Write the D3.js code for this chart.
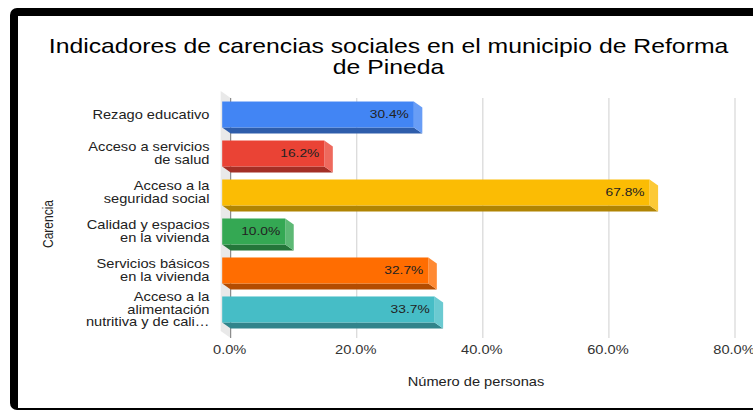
<!DOCTYPE html>
<html>
<head>
<meta charset="utf-8">
<script src="https://cdn.jsdelivr.net/npm/d3@7"></script>
<style>
  html, body { margin: 0; padding: 0; background: #fff; }
  svg { display: block; }
  text { font-family: Arial, "Liberation Sans", sans-serif; }
</style>
</head>
<body>
<svg id="chart" width="753" height="410"></svg>
<script>
// ---- data ----
const titleLines = ["Indicadores de carencias sociales en el municipio de Reforma", "de Pineda"];
const categories = ["Rezago educativo", "Acceso a servicios de salud", "Acceso a la seguridad social",
  "Calidad y espacios en la vivienda", "Servicios básicos en la vivienda",
  "Acceso a la alimentación nutritiva y de calidad"];
const categoryLabelLines = [
  ["Rezago educativo"],
  ["Acceso a servicios", "de salud"],
  ["Acceso a la", "seguridad social"],
  ["Calidad y espacios", "en la vivienda"],
  ["Servicios básicos", "en la vivienda"],
  ["Acceso a la", "alimentación", "nutritiva y de cali…"]
];
const values = [30.4, 16.2, 67.8, 10.0, 32.7, 33.7];
const colors = ["#4285F4", "#EA4335", "#FBBC04", "#34A853", "#FF6D01", "#46BDC6"];
const xTicks = [0, 20, 40, 60, 80];
const xAxisTitle = "Número de personas";
const yAxisTitle = "Carencia";

// ---- layout ----
const SX = 1.22;          // horizontal stretch of the original picture
const svg = d3.select("#chart");
const dx = -8.5, dy = -6; // 3D depth offset (front face relative to back plane)

// frame
svg.append("rect").attr("x", 10).attr("y", 8).attr("width", 800).attr("height", 402).attr("rx", 7).attr("fill", "#000");
svg.append("rect").attr("x", 18).attr("y", 16).attr("width", 800).attr("height", 392).attr("fill", "#fff");

function txt(g, x, y, s, opt = {}) {
  const t = g.append("text")
    .attr("transform", `translate(${x},${y}) scale(${SX},1)` + (opt.rotate ? ` rotate(${opt.rotate})` : ""))
    .attr("text-anchor", opt.anchor || "middle")
    .attr("dy", opt.dy || "0.35em")
    .attr("font-size", opt.size || 12)
    .attr("fill", opt.fill || "#222")
    .text(s);
  return t;
}

// title
titleLines.forEach((l, i) => {
  txt(svg, 388.5, 46 + i * 21, l, { size: 20.3, fill: "#000" });
});

// scales (back plane)
const x = d3.scaleLinear().domain([0, 80]).range([230.7, 735]);
const y = d3.scaleBand().domain(categories).range([98, 338]).paddingInner(0.333).paddingOuter(0.244);
const [gy0, gy1] = y.range();

// wall
svg.append("polygon")
  .attr("points", [[x(0) + dx - 1.5, gy0 + dy - 1], [x(0), gy0], [x(0), gy1], [x(0) + dx - 1.5, gy1 + dy - 1]].map(p => p.join(",")).join(" "))
  .attr("fill", "#e9e9e9");

// gridlines
svg.append("g").selectAll("line").data(xTicks).join("line")
  .attr("x1", d => x(d)).attr("x2", d => x(d))
  .attr("y1", gy0).attr("y2", gy1)
  .attr("stroke", d => d === 0 ? "#777" : "#cfcfcf")
  .attr("stroke-width", 1);

// tick labels
const fmt = d3.format(".1f");
xTicks.forEach(t => txt(svg, x(t) - 1, 350, fmt(t) + "%", { size: 12, fill: "#333" }));

// bars
const bw = y.bandwidth();
const bars = svg.append("g");
categories.forEach((c, i) => {
  const v = values[i];
  const xb0 = x(0), xb1 = x(v), yb0 = y(c), yb1 = y(c) + bw;
  const col = d3.color(colors[i]);
  const g = bars.append("g");
  // bottom face
  g.append("polygon")
    .attr("points", [[xb0 + dx, yb1 + dy], [xb1 + dx, yb1 + dy], [xb1, yb1], [xb0, yb1]].map(p => p.join(",")).join(" "))
    .attr("fill", col.darker(1).formatHex());
  // right face
  g.append("polygon")
    .attr("points", [[xb1 + dx, yb0 + dy], [xb1, yb0], [xb1, yb1], [xb1 + dx, yb1 + dy]].map(p => p.join(",")).join(" "))
    .attr("fill", d3.interpolateRgb(colors[i], "#ffffff")(0.2));
  // front face
  g.append("rect")
    .attr("x", xb0 + dx).attr("y", yb0 + dy)
    .attr("width", xb1 - xb0).attr("height", bw)
    .attr("fill", col.formatHex());
  // value label
  txt(g, xb1 + dx - 5, yb0 + dy + bw / 2, fmt(v) + "%", { anchor: "end", size: 11.3, fill: "#222" });
});

// category labels
const lh = 12.5;
categories.forEach((c, i) => {
  const lines = categoryLabelLines[i];
  const cy = y(c) + dy + bw / 2;
  lines.forEach((l, j) => {
    txt(svg, 209.5, cy + (j - (lines.length - 1) / 2) * lh, l, { anchor: "end", size: 12, fill: "#222" });
  });
});

// axis titles
txt(svg, 476, 382, xAxisTitle, { size: 12, fill: "#222" });
txt(svg, 48, 224, yAxisTitle, { size: 12, fill: "#222", rotate: -90 });
</script>
</body>
</html>
